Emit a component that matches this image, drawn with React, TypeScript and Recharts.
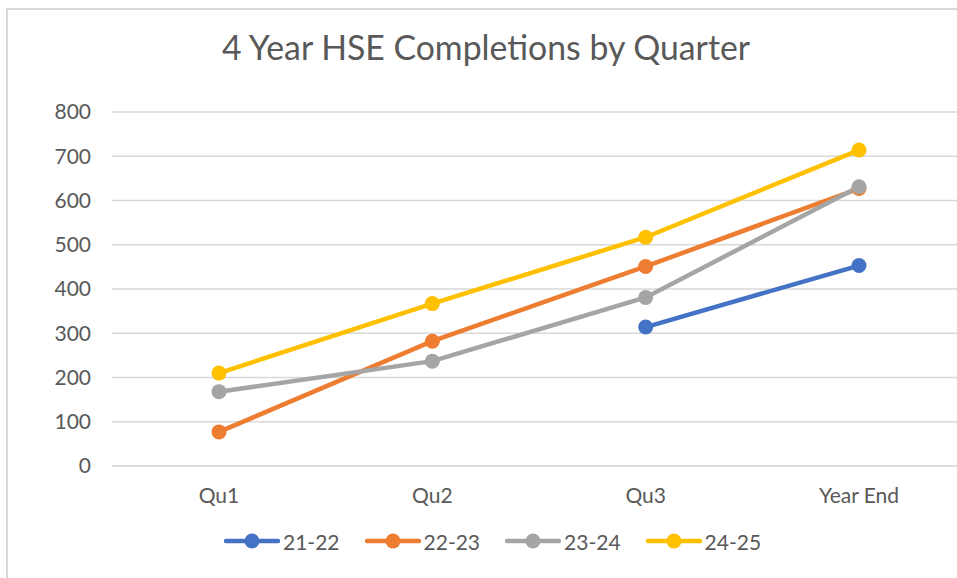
import React from "react";
import { LineChart, Line, XAxis, YAxis, CartesianGrid } from "recharts";

const quarters = ["Qu1", "Qu2", "Qu3", "Year End"];
const seriesNames = ["21-22", "22-23", "23-24", "24-25"];
const fy2122 = [null, null, 314, 453];
const fy2223 = [77, 282, 451, 627];
const fy2324 = [168, 237, 381, 631];
const fy2425 = [210, 367, 517, 714];
const yTicks = [0, 100, 200, 300, 400, 500, 600, 700, 800];

const COLORS = ["#4472C4", "#ED7D31", "#A5A5A5", "#FFC000"];
const seriesValues = [fy2122, fy2223, fy2324, fy2425];

const data = quarters.map((q, i) => {
  const row: Record<string, any> = { quarter: q };
  seriesNames.forEach((name, s) => {
    row[name] = seriesValues[s][i];
  });
  return row;
});

const FONT = "Lato, 'Open Sans', sans-serif";
const TEXT = "#595959";

export default function App() {
  return (
    <div
      style={{
        position: "absolute",
        left: 0,
        top: 0,
        width: 957,
        height: 578,
        overflow: "hidden",
        background: "#fff",
        fontFamily: FONT,
      }}
    >
      <div
        style={{
          position: "absolute",
          left: 6,
          top: 8,
          width: 1000,
          height: 620,
          border: "2px solid #d9d9d9",
          boxSizing: "border-box",
        }}
      />
      <div
        style={{
          position: "absolute",
          left: 7,
          top: 26,
          width: 958,
          textAlign: "center",
          fontSize: 33.8,
          color: TEXT,
          lineHeight: "42px",
        }}
      >
        4 Year HSE Completions by Quarter
      </div>
      <div style={{ position: "absolute", left: 0, top: 0 }}>
        <LineChart
          width={1000}
          height={578}
          data={data}
          margin={{ top: 112, right: 34, bottom: 62, left: 0 }}
        >
          <CartesianGrid vertical={false} stroke="#d9d9d9" strokeWidth={1.5} />
          <XAxis
            dataKey="quarter"
            padding={{ left: 107, right: 107 }}
            axisLine={{ stroke: "#d9d9d9", strokeWidth: 1.5 }}
            tickLine={false}
            tickSize={0}
            tickMargin={22}
            height={50}
            tick={{ fill: TEXT, fontSize: 21, fontFamily: FONT }}
          />
          <YAxis
            domain={[0, 800]}
            ticks={yTicks}
            width={112}
            axisLine={false}
            tickLine={false}
            tickSize={0}
            tickMargin={21}
            tick={{ fill: TEXT, fontSize: 21, fontFamily: FONT }}
          />
          {seriesNames.map((name, i) => (
            <Line
              key={name}
              dataKey={name}
              stroke={COLORS[i]}
              strokeWidth={4.5}
              dot={{ r: 7.5, fill: COLORS[i], stroke: COLORS[i], strokeWidth: 0 }}
              activeDot={false}
              isAnimationActive={false}
              type="linear"
            />
          ))}
        </LineChart>
      </div>
      <div
        style={{
          position: "absolute",
          left: 224,
          top: 527,
          display: "flex",
          gap: 25,
          alignItems: "center",
        }}
      >
        {seriesNames.map((name, i) => (
          <div key={name} style={{ display: "flex", alignItems: "center" }}>
            <svg width={56} height={28}>
              <line x1={2} y1={14} x2={54} y2={14} stroke={COLORS[i]} strokeWidth={4.5} strokeLinecap="round" />
              <circle cx={28} cy={14} r={7.5} fill={COLORS[i]} />
            </svg>
            <span style={{ fontSize: 21, color: TEXT, marginLeft: 3 }}>{name}</span>
          </div>
        ))}
      </div>
    </div>
  );
}
